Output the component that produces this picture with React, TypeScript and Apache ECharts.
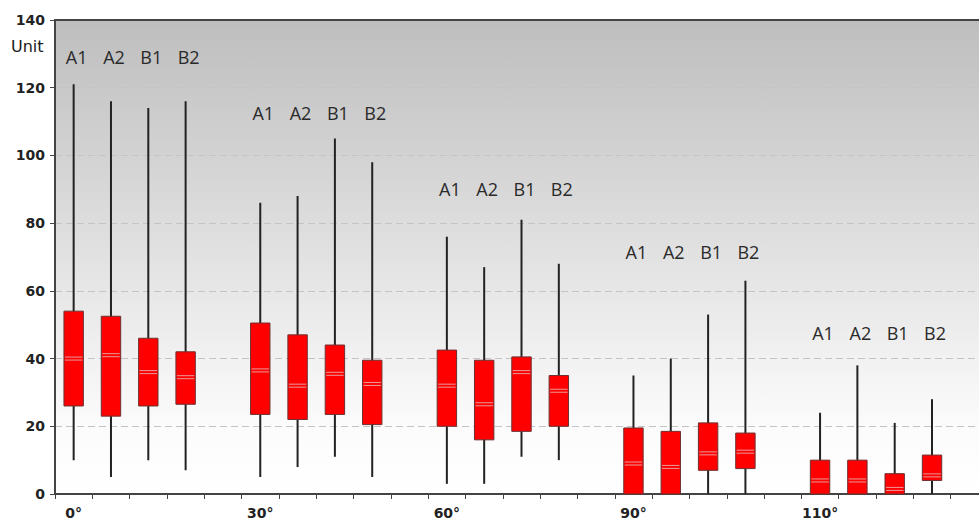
import React, { useEffect, useRef } from "react";
import * as echarts from "echarts";

// Angle groups along the x axis, and the four samples measured at each angle
const groups = ["0°", "30°", "60°", "90°", "110°"];
const samples = ["A1", "A2", "B1", "B2"];

// Box statistics per sample: [min, q1, median, q3, max]
const stats0 = [
  [10, 26, 40, 54, 121],
  [5, 23, 41, 52.5, 116],
  [10, 26, 36, 46, 114],
  [7, 26.5, 34.5, 42, 116],
];
const stats30 = [
  [5, 23.5, 36.5, 50.5, 86],
  [8, 22, 32, 47, 88],
  [11, 23.5, 35.5, 44, 105],
  [5, 20.5, 32.5, 39.5, 98],
];
const stats60 = [
  [3, 20, 32, 42.5, 76],
  [3, 16, 26.5, 39.5, 67],
  [11, 18.5, 36, 40.5, 81],
  [10, 20, 30.5, 35, 68],
];
const stats90 = [
  [0, 0, 9, 19.5, 35],
  [0, 0, 8, 18.5, 40],
  [0, 7, 12, 21, 53],
  [0, 7.5, 12.5, 18, 63],
];
const stats110 = [
  [0, 0, 4, 10, 24],
  [0, 0, 4, 10, 38],
  [0, 0, 1.5, 6, 21],
  [0, 4, 5.5, 11.5, 28],
];
const groupStats = [stats0, stats30, stats60, stats90, stats110];

// Height (in units) at which each group's sample names are written
const labelHeights = [129, 112.5, 90, 71.5, 47.5];

const yTicks = { min: 0, max: 140, interval: 20 };
const axisName = "Unit";

// Each group takes four slots plus one empty slot as a spacer
const slotsPerGroup = samples.length + 1;

export default function App() {
  const ref = useRef<HTMLDivElement>(null);

  useEffect(() => {
    if (!ref.current) return;
    const chart = echarts.init(ref.current, undefined, { renderer: "svg" });

    const categories: string[] = [];
    groups.forEach((g) => {
      categories.push(g);
      for (let i = 1; i < slotsPerGroup; i++) categories.push("");
    });

    const boxData: number[][] = [];
    const labelData: (number | string)[][] = [];
    groupStats.forEach((gs, gi) => {
      gs.forEach((s, si) => {
        const idx = gi * slotsPerGroup + si;
        boxData.push([idx, ...s]);
        labelData.push([idx, labelHeights[gi], samples[si]]);
      });
    });

    chart.setOption({
      animation: false,
      grid: {
        left: 55,
        top: 20,
        width: 933,
        height: 475,
        show: true,
        borderColor: "#444",
        borderWidth: 0,
        backgroundColor: new echarts.graphic.LinearGradient(0, 0, 0, 1, [
          { offset: 0, color: "#bebebe" },
          { offset: 0.85, color: "#fbfbfb" },
          { offset: 1, color: "#ffffff" },
        ]),
      },
      graphic: [
        {
          type: "text",
          left: 11,
          top: 38,
          style: {
            text: axisName,
            font: "16px 'DejaVu Sans'",
            fill: "#1a1a1a",
          },
        },
      ],
      xAxis: [
        {
          type: "category",
          data: categories,
          boundaryGap: true,
          axisLine: { lineStyle: { color: "#444", width: 2 } },
          axisTick: { show: true, interval: 0, length: 5, lineStyle: { color: "#444" } },
          axisLabel: {
            interval: 0,
            margin: 12,
            color: "#222",
            fontFamily: "DejaVu Sans",
            fontWeight: "bold",
            fontSize: 14,
          },
          splitLine: { show: false },
        },
        {
          // plain frame line along the top of the plot
          type: "category",
          data: categories,
          position: "top",
          axisLine: { show: true, lineStyle: { color: "#444", width: 2 } },
          axisTick: { show: false },
          axisLabel: { show: false },
          splitLine: { show: false },
        },
      ],
      yAxis: {
        type: "value",
        min: yTicks.min,
        max: yTicks.max,
        interval: yTicks.interval,
        axisLine: { show: true, lineStyle: { color: "#444", width: 2 } },
        axisTick: { show: true, length: 5, lineStyle: { color: "#444" } },
        axisLabel: {
          margin: 10,
          color: "#222",
          fontFamily: "DejaVu Sans",
          fontWeight: "bold",
          fontSize: 14,
        },
        splitLine: {
          show: true,
          showMaxLine: false,
          lineStyle: { color: "#c4c4c4", type: [7, 4], width: 1 },
        },
      },
      series: [
        {
          type: "custom",
          name: "boxes",
          data: boxData,
          encode: { x: 0, y: [1, 2, 3, 4, 5] },
          renderItem: (params: any, api: any) => {
            const x = api.value(0);
            const pMin = api.coord([x, api.value(1)]);
            const pQ1 = api.coord([x, api.value(2)]);
            const pMed = api.coord([x, api.value(3)]);
            const pQ3 = api.coord([x, api.value(4)]);
            const pMax = api.coord([x, api.value(5)]);
            const bw = api.size([1, 0])[0] * 0.52;
            const cx = pMin[0];
            const left = cx - bw / 2;
            return {
              type: "group",
              children: [
                {
                  type: "line",
                  shape: { x1: cx, y1: pMax[1], x2: cx, y2: pMin[1] },
                  style: { stroke: "#222", lineWidth: 2 },
                },
                {
                  type: "rect",
                  shape: { x: left, y: pQ3[1], width: bw, height: pQ1[1] - pQ3[1] },
                  style: { fill: "#ff0000", stroke: "#6e3030", lineWidth: 1 },
                },
                {
                  type: "line",
                  shape: { x1: left + 1, y1: pMed[1] - 1.5, x2: left + bw - 1, y2: pMed[1] - 1.5 },
                  style: { stroke: "#e89a9a", lineWidth: 1 },
                },
                {
                  type: "line",
                  shape: { x1: left + 1, y1: pMed[1] + 1.5, x2: left + bw - 1, y2: pMed[1] + 1.5 },
                  style: { stroke: "#e89a9a", lineWidth: 1 },
                },
              ],
            };
          },
          z: 3,
        },
        {
          type: "custom",
          name: "names",
          data: labelData,
          encode: { x: 0, y: 1 },
          renderItem: (params: any, api: any) => {
            const p = api.coord([api.value(0), api.value(1)]);
            return {
              type: "text",
              x: p[0] + 3,
              y: p[1],
              style: {
                text: labelData[params.dataIndex][2] as string,
                font: "18px 'Open Sans'",
                fill: "#2a2a2a",
                align: "center",
                verticalAlign: "middle",
              },
            };
          },
          z: 4,
        },
      ],
    });

    return () => chart.dispose();
  }, []);

  return (
    <div
      style={{
        position: "fixed",
        left: 0,
        top: 0,
        width: 979,
        height: 520,
        overflow: "hidden",
        background: "#fff",
      }}
    >
      <div ref={ref} style={{ width: 1000, height: 520 }} />
    </div>
  );
}
